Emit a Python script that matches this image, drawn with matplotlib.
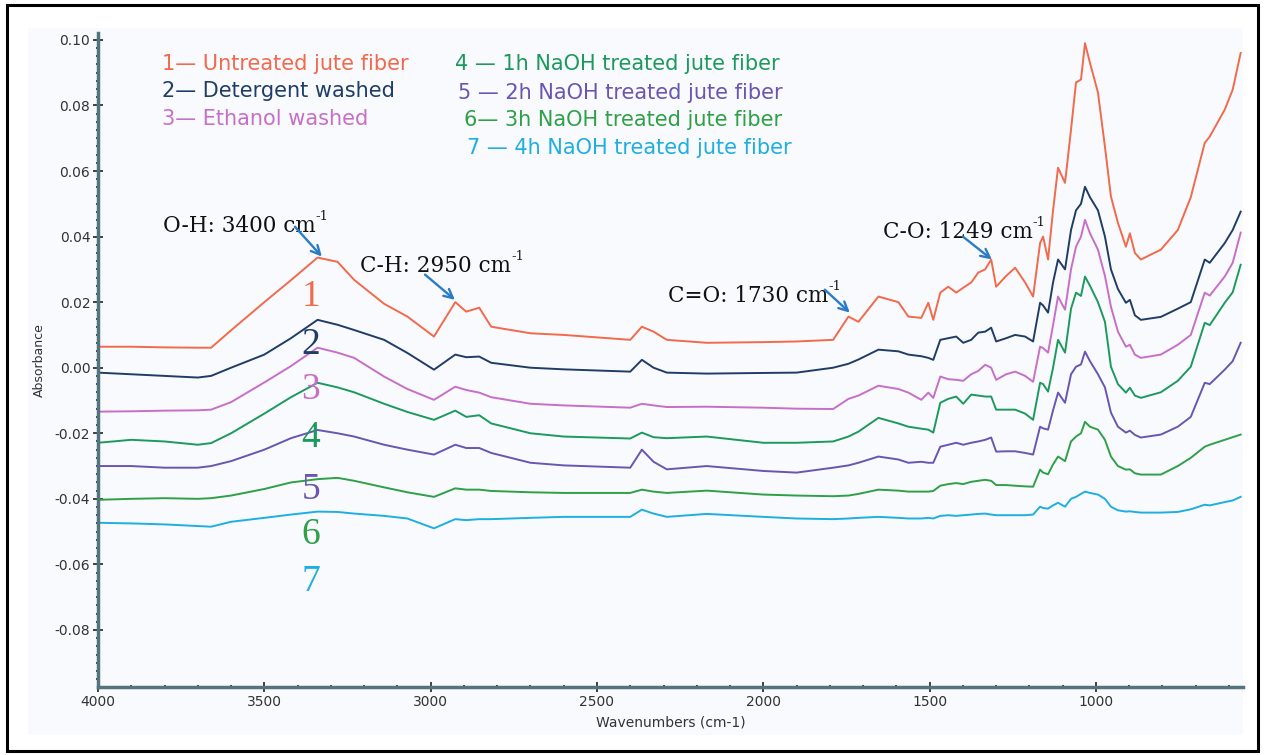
import numpy as np
import matplotlib
matplotlib.use('Agg')
import matplotlib.pyplot as plt
from matplotlib.patches import Rectangle
from matplotlib.ticker import MultipleLocator, FixedLocator

# wavenumber grid (cm-1) shared by all spectra
wavenumbers = [4000, 3900, 3800, 3700, 3660, 3600, 3500, 3420, 3340, 3280,
               3230, 3140, 3070, 2990, 2926, 2893, 2854, 2818, 2700, 2600,
               2400, 2365, 2330, 2290, 2170, 2000, 1900, 1790, 1744, 1714,
               1654, 1594, 1564, 1525, 1504, 1489, 1468, 1444, 1420, 1399,
               1375, 1354, 1333, 1315, 1300, 1270, 1243, 1213, 1189, 1168,
               1159, 1144, 1129, 1114, 1093, 1075, 1060, 1045, 1033, 1018,
               994, 973, 955, 934, 910, 898, 883, 865, 805, 754,
               715, 673, 658, 613, 589, 565]

untreated = [0.0064, 0.0064, 0.0062, 0.0061, 0.0061, 0.0114, 0.0200, 0.0267, 0.0336, 0.0323,
             0.0268, 0.0195, 0.0156, 0.0095, 0.0200, 0.0171, 0.0183, 0.0125, 0.0105, 0.0100,
             0.0085, 0.0125, 0.0110, 0.0085, 0.0076, 0.0078, 0.0080, 0.0085, 0.0156, 0.0140,
             0.0217, 0.0200, 0.0156, 0.0152, 0.0198, 0.0146, 0.0229, 0.0247, 0.0229, 0.0244,
             0.0260, 0.0290, 0.0300, 0.0330, 0.0247, 0.0280, 0.0305, 0.0260, 0.0217, 0.0380,
             0.0400, 0.0330, 0.0480, 0.0610, 0.0564, 0.0726, 0.0870, 0.0879, 0.0990, 0.0930,
             0.0839, 0.0674, 0.0522, 0.0442, 0.0369, 0.0410, 0.0350, 0.0330, 0.0360, 0.0420,
             0.0520, 0.0686, 0.0705, 0.0787, 0.0848, 0.0960]

detergent = [-0.0015, -0.0020, -0.0025, -0.0030, -0.0025, 0.0000, 0.0040, 0.0090, 0.0146, 0.0131,
             0.0115, 0.0085, 0.0045, -0.0006, 0.0040, 0.0032, 0.0034, 0.0015, 0.0000, -0.0005,
             -0.0012, 0.0024, 0.0000, -0.0015, -0.0018, -0.0016, -0.0015, 0.0000, 0.0012, 0.0025,
             0.0055, 0.0050, 0.0040, 0.0035, 0.0030, 0.0024, 0.0085, 0.0090, 0.0095, 0.0076,
             0.0085, 0.0107, 0.0110, 0.0122, 0.0080, 0.0090, 0.0100, 0.0095, 0.0080, 0.0198,
             0.0190, 0.0168, 0.0260, 0.0330, 0.0300, 0.0420, 0.0480, 0.0500, 0.0552, 0.0520,
             0.0480, 0.0400, 0.0300, 0.0240, 0.0198, 0.0207, 0.0160, 0.0146, 0.0155, 0.0180,
             0.0200, 0.0330, 0.0320, 0.0380, 0.0420, 0.0476]

ethanol = [-0.0134, -0.0133, -0.0131, -0.0130, -0.0128, -0.0105, -0.0045, 0.0005, 0.0061, 0.0046,
           0.0030, -0.0027, -0.0065, -0.0098, -0.0058, -0.0068, -0.0076, -0.0090, -0.0110, -0.0115,
           -0.0122, -0.0110, -0.0115, -0.0120, -0.0119, -0.0122, -0.0125, -0.0126, -0.0095, -0.0085,
           -0.0055, -0.0065, -0.0076, -0.0098, -0.0076, -0.0092, -0.0027, -0.0035, -0.0037, -0.0040,
           -0.0020, -0.0010, 0.0009, 0.0000, -0.0037, -0.0020, -0.0012, -0.0025, -0.0043, 0.0064,
           0.0060, 0.0046, 0.0130, 0.0217, 0.0177, 0.0300, 0.0369, 0.0400, 0.0451, 0.0410,
           0.0360, 0.0280, 0.0186, 0.0110, 0.0064, 0.0070, 0.0040, 0.0030, 0.0040, 0.0070,
           0.0100, 0.0229, 0.0220, 0.0278, 0.0320, 0.0412]

naoh_1h = [-0.0229, -0.0220, -0.0225, -0.0235, -0.0230, -0.0200, -0.0140, -0.0090, -0.0046, -0.0060,
           -0.0075, -0.0110, -0.0135, -0.0159, -0.0131, -0.0150, -0.0145, -0.0170, -0.0200, -0.0210,
           -0.0216, -0.0198, -0.0212, -0.0215, -0.0210, -0.0229, -0.0229, -0.0225, -0.0210, -0.0195,
           -0.0153, -0.0170, -0.0180, -0.0186, -0.0189, -0.0198, -0.0107, -0.0095, -0.0088, -0.0110,
           -0.0082, -0.0085, -0.0088, -0.0088, -0.0128, -0.0128, -0.0128, -0.0140, -0.0159, -0.0046,
           -0.0050, -0.0073, 0.0000, 0.0085, 0.0046, 0.0180, 0.0229, 0.0219, 0.0278, 0.0250,
           0.0200, 0.0140, 0.0003, -0.0050, -0.0076, -0.0061, -0.0085, -0.0092, -0.0075, -0.0040,
           0.0003, 0.0137, 0.0130, 0.0198, 0.0230, 0.0314]

naoh_2h = [-0.0300, -0.0300, -0.0305, -0.0305, -0.0300, -0.0285, -0.0250, -0.0215, -0.0190, -0.0200,
           -0.0210, -0.0235, -0.0250, -0.0265, -0.0235, -0.0245, -0.0245, -0.0260, -0.0290, -0.0298,
           -0.0305, -0.0250, -0.0287, -0.0310, -0.0300, -0.0315, -0.0320, -0.0305, -0.0298, -0.0290,
           -0.0271, -0.0280, -0.0290, -0.0287, -0.0290, -0.0290, -0.0241, -0.0235, -0.0229, -0.0235,
           -0.0229, -0.0225, -0.0220, -0.0213, -0.0256, -0.0255, -0.0255, -0.0260, -0.0265, -0.0180,
           -0.0185, -0.0189, -0.0130, -0.0076, -0.0107, -0.0020, 0.0003, 0.0010, 0.0049, 0.0020,
           -0.0020, -0.0060, -0.0137, -0.0180, -0.0198, -0.0192, -0.0205, -0.0213, -0.0204, -0.0180,
           -0.0150, -0.0046, -0.0050, -0.0006, 0.0020, 0.0076]

naoh_3h = [-0.0403, -0.0400, -0.0398, -0.0400, -0.0398, -0.0390, -0.0370, -0.0350, -0.0340, -0.0336,
           -0.0345, -0.0365, -0.0380, -0.0394, -0.0368, -0.0372, -0.0372, -0.0376, -0.0380, -0.0382,
           -0.0382, -0.0372, -0.0378, -0.0382, -0.0375, -0.0387, -0.0390, -0.0392, -0.0390, -0.0385,
           -0.0372, -0.0375, -0.0378, -0.0378, -0.0378, -0.0376, -0.0360, -0.0355, -0.0352, -0.0355,
           -0.0348, -0.0345, -0.0342, -0.0345, -0.0358, -0.0358, -0.0360, -0.0362, -0.0363, -0.0311,
           -0.0320, -0.0325, -0.0295, -0.0271, -0.0285, -0.0225, -0.0210, -0.0200, -0.0165, -0.0180,
           -0.0189, -0.0220, -0.0271, -0.0300, -0.0311, -0.0310, -0.0322, -0.0326, -0.0326, -0.0300,
           -0.0275, -0.0241, -0.0235, -0.0220, -0.0212, -0.0204]

naoh_4h = [-0.0473, -0.0475, -0.0478, -0.0483, -0.0485, -0.0470, -0.0458, -0.0448, -0.0439, -0.0440,
           -0.0445, -0.0452, -0.0460, -0.0490, -0.0462, -0.0465, -0.0462, -0.0462, -0.0458, -0.0455,
           -0.0455, -0.0433, -0.0445, -0.0455, -0.0446, -0.0455, -0.0460, -0.0462, -0.0460, -0.0458,
           -0.0455, -0.0458, -0.0460, -0.0460, -0.0458, -0.0460, -0.0452, -0.0450, -0.0452, -0.0450,
           -0.0448, -0.0446, -0.0445, -0.0448, -0.0450, -0.0450, -0.0450, -0.0450, -0.0448, -0.0424,
           -0.0428, -0.0430, -0.0420, -0.0412, -0.0424, -0.0400, -0.0394, -0.0385, -0.0378, -0.0382,
           -0.0387, -0.0400, -0.0424, -0.0435, -0.0439, -0.0438, -0.0440, -0.0442, -0.0442, -0.0440,
           -0.0432, -0.0418, -0.0420, -0.0410, -0.0405, -0.0394]

series = [untreated, detergent, ethanol, naoh_1h, naoh_2h, naoh_3h, naoh_4h]
colors = ['#f2694c', '#1f3d66', '#c76fc8', '#1c9a5c', '#6a55b2', '#2ea048', '#1eaee2']
legend_left = ['1\u2014 Untreated jute fiber', '2\u2014 Detergent washed', '3\u2014 Ethanol washed']
legend_right = ['4 \u2014 1h NaOH treated jute fiber', '5 \u2014 2h NaOH treated jute fiber',
                '6\u2014 3h NaOH treated jute fiber', '7 \u2014 4h NaOH treated jute fiber']

sans = ['DejaVu Sans']
serif = ['DejaVu Serif']
times = ['Liberation Serif', 'DejaVu Serif']

fig = plt.figure(figsize=(12.64, 7.55), dpi=100)
W, H = 1264, 755

# outer frame + pale plot panel (behind the axes)
fig.patches.append(Rectangle((28 / W, 1 - 735 / H), 1215 / W, 707 / H, transform=fig.transFigure,
                             facecolor='#f9fafd', edgecolor='none', zorder=-20))
fig.patches.append(Rectangle((7 / W, 1 - 751 / H), 1251 / W, 746 / H, transform=fig.transFigure,
                             fill=False, edgecolor='black', linewidth=2.2, zorder=-10))

ax = fig.add_axes([98 / W, 1 - 687 / H, (1243 - 98) / W, (687 - 33) / H])
ax.patch.set_alpha(0)

for ys, c in zip(series, colors):
    ax.plot(wavenumbers, ys, color=c, linewidth=1.4)

ax.set_xlim(4000, 558)
ax.set_ylim(-0.0974, 0.1021)

ax.xaxis.set_major_locator(FixedLocator([4000, 3500, 3000, 2500, 2000, 1500, 1000]))
ax.xaxis.set_minor_locator(MultipleLocator(100))
ax.yaxis.set_major_locator(FixedLocator(np.round(np.arange(-0.08, 0.101, 0.02), 2)))
ax.yaxis.set_minor_locator(MultipleLocator(0.0025))
ax.yaxis.set_major_formatter(plt.FuncFormatter(lambda v, p: '%.2f' % v))

for s in ['top', 'right']:
    ax.spines[s].set_visible(False)
for s in ['left', 'bottom']:
    ax.spines[s].set_color('#53737f')
    ax.spines[s].set_linewidth(2.5)

ax.tick_params(which='major', direction='inout', length=7, width=1.2, color='#222222',
               labelsize=10, labelcolor='#333333', pad=2)
ax.tick_params(which='minor', direction='inout', length=3.5, width=1.2, color='#222222')
for lab in ax.get_xticklabels() + ax.get_yticklabels():
    lab.set_family(sans)

ax.set_xlabel('Wavenumbers (cm-1)', family=sans, fontsize=10, color='#333333', labelpad=5)
ax.set_ylabel('Absorbance', family=sans, fontsize=9, color='#333333', labelpad=6)

# legend text
left_y = [0.0927, 0.0845, 0.0760]
for t, y, c in zip(legend_left, left_y, colors[:3]):
    ax.text(3808, y, t, color=c, fontsize=15, family=sans, ha='left', va='center')
right_y = [0.0927, 0.0839, 0.0757, 0.0671]
right_x = [2927, 2918, 2900, 2891]
for t, x, y, c in zip(legend_right, right_x, right_y, colors[3:]):
    ax.text(x, y, t, color=c, fontsize=15, family=sans, ha='left', va='center')

# big curve numbers
num_y = [0.0215, 0.0070, -0.0067, -0.0214, -0.0372, -0.0510, -0.0652]
for i, (y, c) in enumerate(zip(num_y, colors)):
    ax.text(3360, y, str(i + 1), color=c, fontsize=27, family=times, ha='center', va='center')

# peak annotations
notes = [('O-H: 3400 cm', 3805, 0.0433, (3408, 0.0430), (3327, 0.0339)),
         ('C-H: 2950 cm', 3212, 0.0311, (3017, 0.0284), (2927, 0.0207)),
         ('C=O: 1730 cm', 2287, 0.0220, (1815, 0.0238), (1740, 0.0168)),
         ('C-O: 1249 cm', 1641, 0.0415, (1400, 0.0400), (1313, 0.0330))]
for txt, tx, ty, start, tip in notes:
    t = ax.text(tx, ty, txt, fontsize=15.5, family=serif, color='#111111', ha='left', va='center')
    ax.annotate('-1', xy=(1.0, 0.92), xycoords=t, fontsize=9.5, family=serif,
                color='#111111', ha='left', va='center')
    ax.annotate('', xy=tip, xytext=start,
                arrowprops=dict(arrowstyle='->', color='#2a7cc6', lw=1.7,
                                mutation_scale=16, shrinkA=0, shrinkB=0))

fig.savefig('out.png', dpi=100)
